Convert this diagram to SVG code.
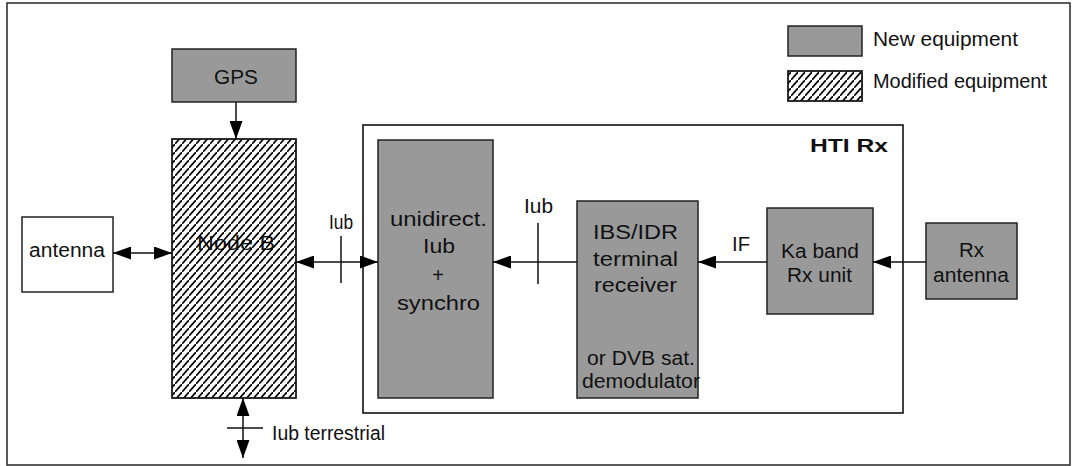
<svg xmlns="http://www.w3.org/2000/svg" width="1072" height="466" viewBox="0 0 1072 466">
<style>
  .box { stroke: #222; stroke-width: 1.5; }
  .new { fill: #999999; }
  .plain { fill: #ffffff; }
  .frame { fill: none; stroke: #111; stroke-width: 1.6; }
  .t { font-family: "Liberation Sans", Arial, sans-serif; font-size: 20px; fill: #111; }
  .tb { font-family: "Liberation Sans", Arial, sans-serif; font-size: 19px; font-weight: bold; fill: #111; }
  .ln { stroke: #111; stroke-width: 1.5; fill: none; }
</style>
<defs>
  <pattern id="hatch" patternUnits="userSpaceOnUse" width="7" height="8">
    <path d="M0,8 L7,0" stroke="#000" stroke-width="1.7"/>
  </pattern>
  <marker id="ah" viewBox="0 0 18 13" refX="18" refY="6.5" markerWidth="18" markerHeight="13" markerUnits="userSpaceOnUse" orient="auto-start-reverse">
    <path d="M0,0 L18,6.5 L0,13 Z" fill="#000"/>
  </marker>
</defs>

<rect id="outer-frame" x="7" y="3" width="1063" height="462" fill="none" stroke="#333" stroke-width="1.6"/>

<g id="legend">
  <rect class="box new" x="788" y="26" width="74" height="30"/>
  <text class="t" x="873" y="46" textLength="145" lengthAdjust="spacingAndGlyphs">New equipment</text>
  <rect class="box plain" x="788" y="71" width="74" height="30"/>
  <rect x="788" y="71" width="74" height="30" fill="url(#hatch)" stroke="#222" stroke-width="1.5"/>
  <text class="t" x="873" y="88" textLength="174" lengthAdjust="spacingAndGlyphs">Modified equipment</text>
</g>

<g id="gps">
  <rect class="box new" x="172" y="49" width="124" height="53"/>
  <text class="t" x="214" y="84" textLength="44" lengthAdjust="spacingAndGlyphs">GPS</text>
</g>

<g id="node-b">
  <rect class="box plain" x="172" y="139" width="124" height="259"/>
  <text class="t" x="197" y="250" textLength="78" lengthAdjust="spacingAndGlyphs">Node B</text>
  <rect x="172" y="139" width="124" height="259" fill="url(#hatch)" stroke="#222" stroke-width="1.5"/>
</g>

<g id="antenna">
  <rect class="box plain" x="22" y="217" width="91" height="75"/>
  <text class="t" x="29" y="257" textLength="76" lengthAdjust="spacingAndGlyphs">antenna</text>
</g>

<g id="hti-rx">
  <rect class="frame" x="363" y="125" width="540" height="288"/>
  <text class="tb" x="810" y="152" textLength="78" lengthAdjust="spacingAndGlyphs">HTI Rx</text>
</g>

<g id="unidirect">
  <rect class="box new" x="378" y="140" width="115" height="258"/>
  <text class="t" x="390" y="226" textLength="97" lengthAdjust="spacingAndGlyphs">unidirect.</text>
  <text class="t" x="423" y="253" textLength="32" lengthAdjust="spacingAndGlyphs">Iub</text>
  <text class="t" x="438" y="282" text-anchor="middle">+</text>
  <text class="t" x="397" y="310" textLength="83" lengthAdjust="spacingAndGlyphs">synchro</text>
</g>

<g id="ibs-idr">
  <rect class="box new" x="577" y="201" width="121" height="197"/>
  <text class="t" x="593" y="239" textLength="85" lengthAdjust="spacingAndGlyphs">IBS/IDR</text>
  <text class="t" x="593" y="266" textLength="85" lengthAdjust="spacingAndGlyphs">terminal</text>
  <text class="t" x="594" y="292" textLength="83" lengthAdjust="spacingAndGlyphs">receiver</text>
  <text class="t" x="587" y="365" textLength="108" lengthAdjust="spacingAndGlyphs">or DVB sat.</text>
  <text class="t" x="582" y="388" textLength="118" lengthAdjust="spacingAndGlyphs">demodulator</text>
</g>

<g id="ka-band">
  <rect class="box new" x="767" y="208" width="106" height="106"/>
  <text class="t" x="781" y="258" textLength="78" lengthAdjust="spacingAndGlyphs">Ka band</text>
  <text class="t" x="787" y="282" textLength="65" lengthAdjust="spacingAndGlyphs">Rx unit</text>
</g>

<g id="rx-antenna">
  <rect class="box new" x="926" y="223" width="91" height="76"/>
  <text class="t" x="959" y="257" textLength="25" lengthAdjust="spacingAndGlyphs">Rx</text>
  <text class="t" x="933" y="282" textLength="76" lengthAdjust="spacingAndGlyphs">antenna</text>
</g>

<g id="connectors">
  <line class="ln" x1="236" y1="102" x2="236" y2="139" marker-end="url(#ah)"/>
  <line class="ln" x1="113" y1="253" x2="172" y2="253" marker-start="url(#ah)" marker-end="url(#ah)"/>
  <line class="ln" x1="296" y1="262" x2="378" y2="262" marker-start="url(#ah)" marker-end="url(#ah)"/>
  <line class="ln" x1="341" y1="236" x2="341" y2="283"/>
  <text class="t" x="329" y="229" textLength="24" lengthAdjust="spacingAndGlyphs">Iub</text>
  <line class="ln" x1="577" y1="262" x2="493" y2="262" marker-end="url(#ah)"/>
  <line class="ln" x1="538" y1="223" x2="538" y2="284"/>
  <text class="t" x="524" y="213" textLength="29" lengthAdjust="spacingAndGlyphs">Iub</text>
  <line class="ln" x1="767" y1="262" x2="698" y2="262" marker-end="url(#ah)"/>
  <text class="t" x="732" y="251" textLength="18" lengthAdjust="spacingAndGlyphs">IF</text>
  <line class="ln" x1="926" y1="262" x2="873" y2="262" marker-end="url(#ah)"/>
  <line class="ln" x1="243" y1="398" x2="243" y2="458" marker-start="url(#ah)" marker-end="url(#ah)"/>
  <line class="ln" x1="227" y1="428" x2="263" y2="428"/>
  <text class="t" x="272" y="440" textLength="113" lengthAdjust="spacingAndGlyphs">Iub terrestrial</text>
</g>
</svg>
